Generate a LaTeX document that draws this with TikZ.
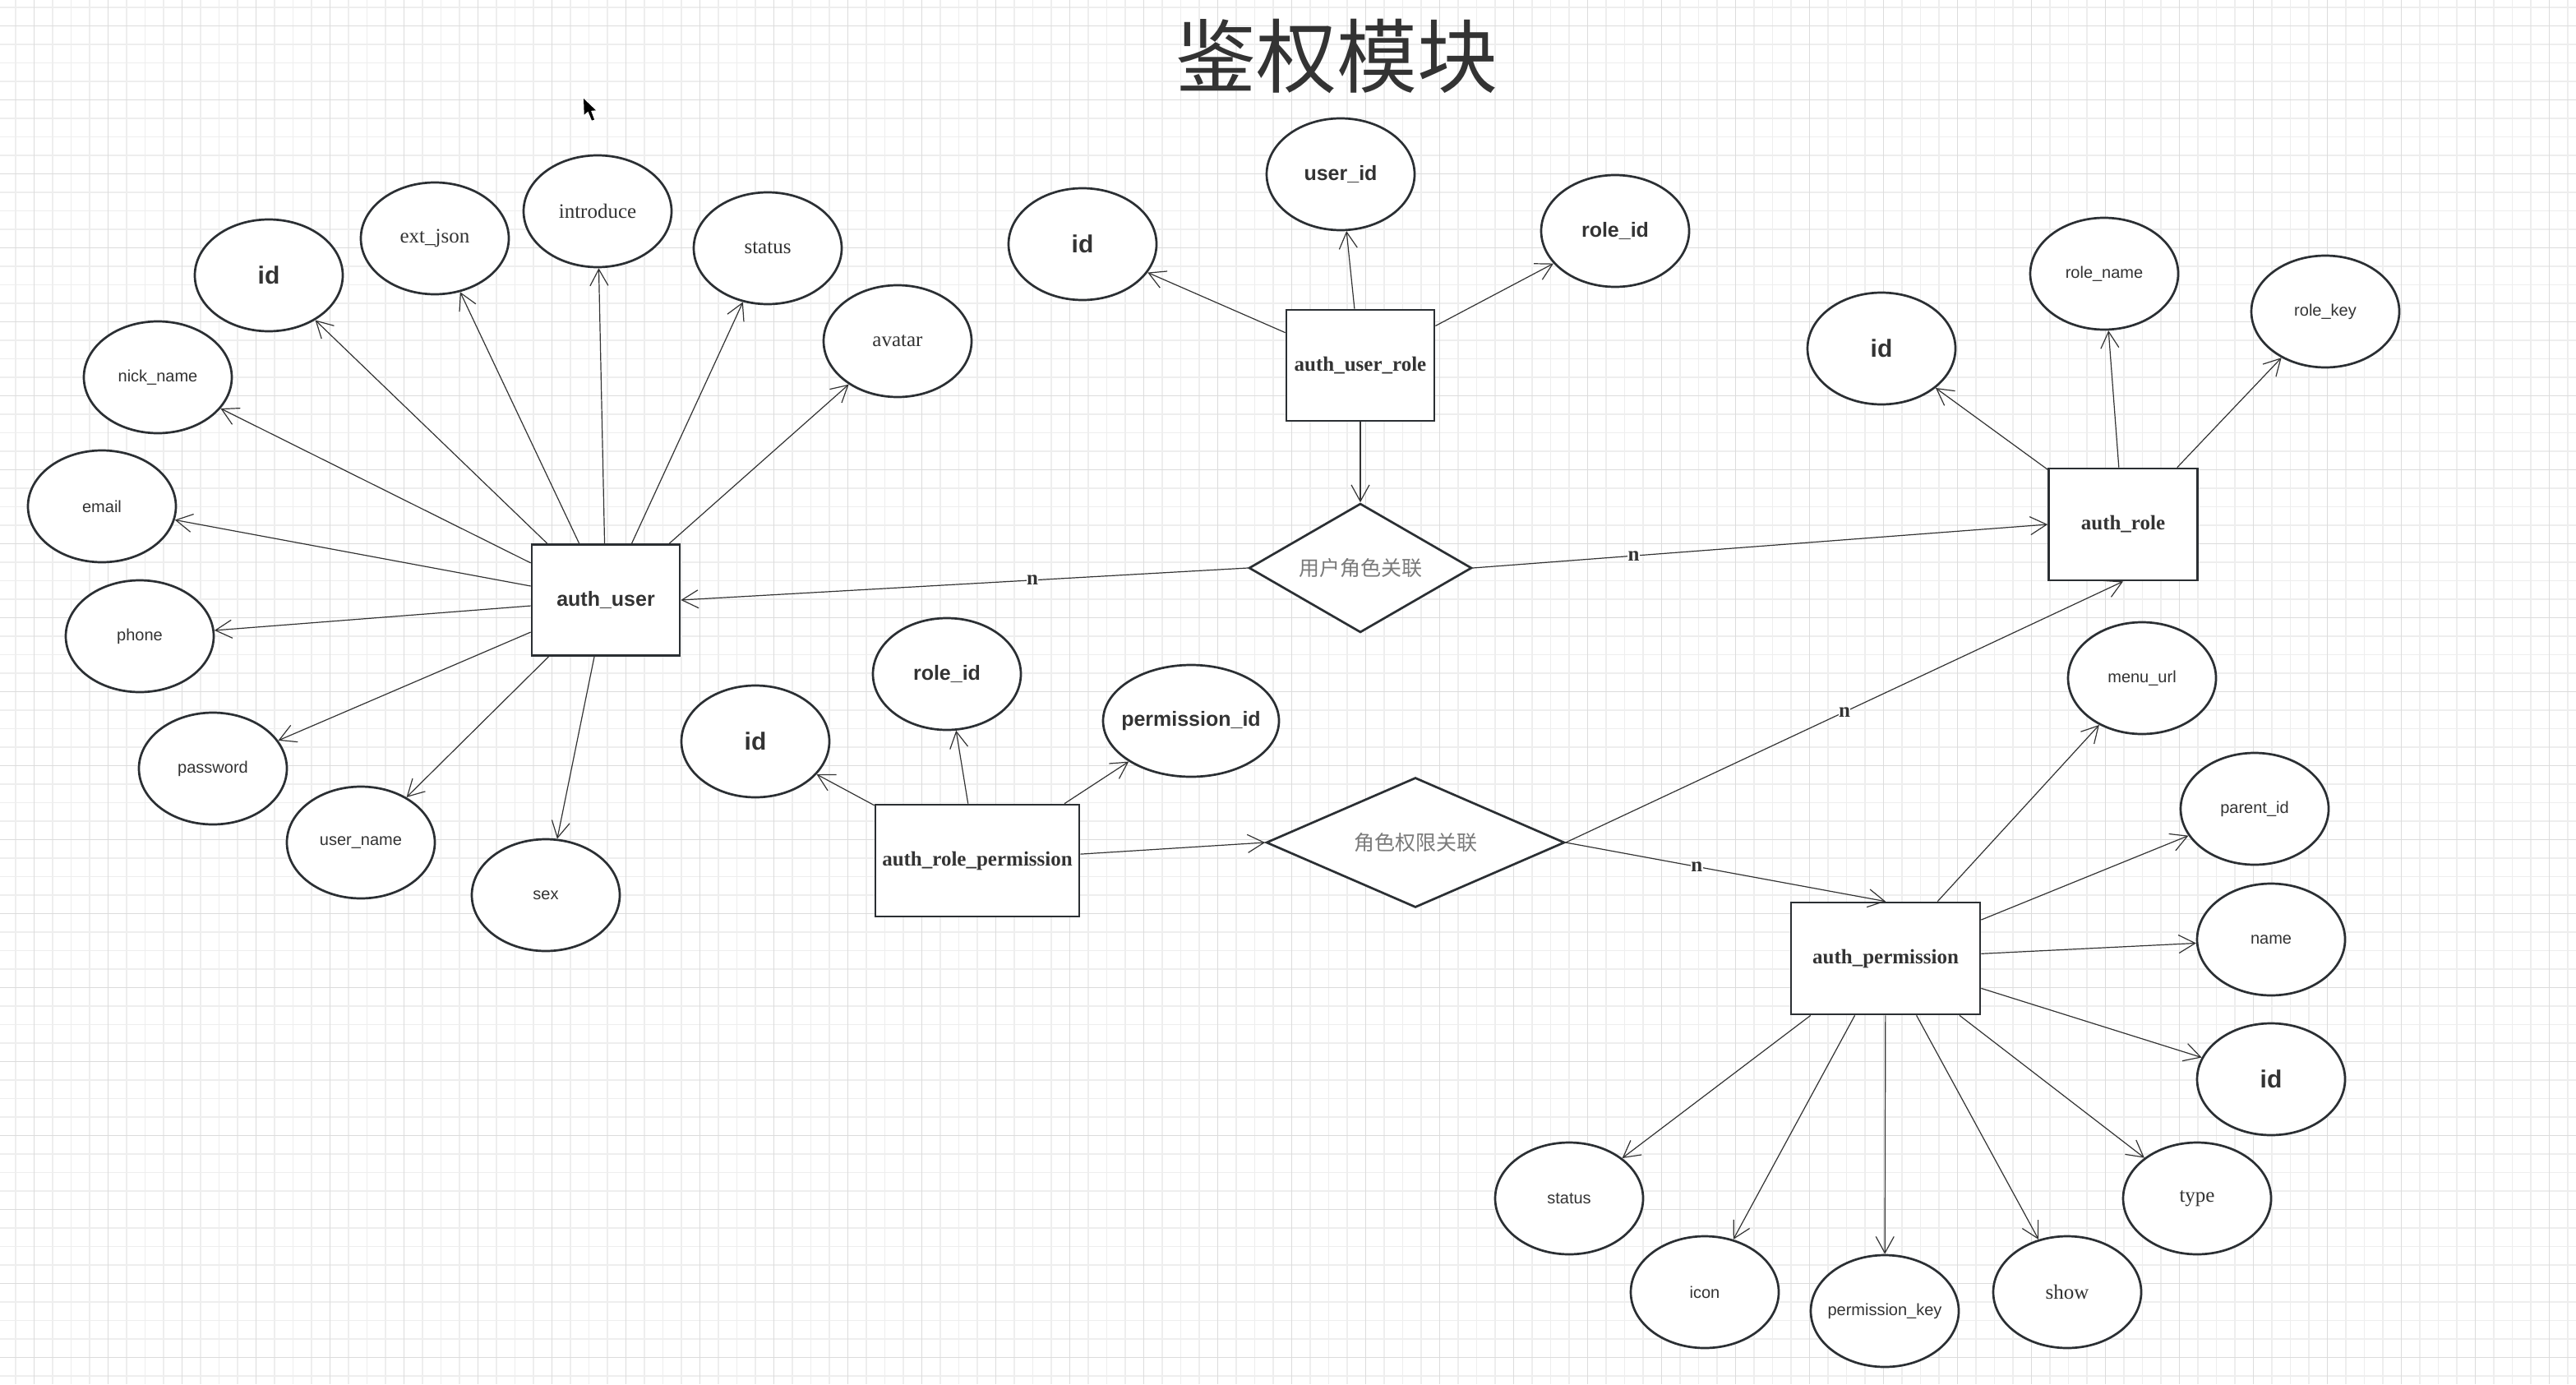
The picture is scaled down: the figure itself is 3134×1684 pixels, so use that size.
\documentclass[tikz,border=0pt]{standalone}
\usepackage{fontspec}
\usetikzlibrary{shapes.geometric,arrows.meta}
\newfontfamily\lsans{Liberation Sans}
\newfontfamily\lserif{Liberation Serif}
\newfontfamily\cjkf{Noto Sans CJK SC}
\definecolor{linec}{HTML}{2B2F33}
\definecolor{connc}{HTML}{333333}
\definecolor{txt}{HTML}{333333}
\definecolor{reltxt}{HTML}{7A7A7A}
\definecolor{gridminor}{HTML}{EEEEEE}
\definecolor{gridmajor}{HTML}{DCDCDC}
\tikzset{
  attr/.style={ellipse, draw=linec, line width=2.7pt, fill=white, minimum width=180pt, minimum height=136pt, inner sep=0pt, text=txt},
  ent/.style={rectangle, draw=linec, line width=2.7pt, fill=white, minimum width=180pt, minimum height=135pt, inner sep=0pt, text=txt},
  rel/.style={diamond, draw=linec, line width=2.7pt, fill=white, inner sep=0pt, aspect=2.5, text=reltxt, font=\cjkf\fontsize{25}{30}\selectfont},
  conn/.style={draw=connc, line width=1.2pt, -{Straight Barb[length=20pt,width=22pt,line width=1.2pt]}},
  card/.style={font=\lserif\bfseries\fontsize{25}{30}\selectfont, fill=white, inner sep=0.5pt, text=txt},
  fbig/.style={font=\lsans\bfseries\fontsize{30}{36}\selectfont},
  fbold/.style={font=\lsans\bfseries\fontsize{25}{30}\selectfont},
  fsm/.style={font=\lsans\fontsize{20}{24}\selectfont},
  fser/.style={font=\lserif\fontsize{25}{30}\selectfont},
  fent/.style={font=\lserif\bfseries\fontsize{25}{30}\selectfont},
}
\begin{document}
\begin{tikzpicture}[x=1pt,y=-1pt]
\useasboundingbox (0,0) rectangle (3134,1684);
\fill[white] (0,0) rectangle (3134,1684);
% grid
\foreach \k in {0,...,139} \draw[gridminor, line width=1.5pt] ({19.2+22.5*\k},0) -- ++(0,1684);
\foreach \k in {0,...,75} \draw[gridminor, line width=1.5pt] (0,{9.2+22.5*\k}) -- ++(3134,0);
\foreach \k in {0,...,34} \draw[gridmajor, line width=1.2pt] ({41.7+90*\k},0) -- ++(0,1684);
\foreach \k in {0,...,18} \draw[gridmajor, line width=1.2pt] (0,{31.7+90*\k}) -- ++(3134,0);

% title
\node[font=\cjkf\fontsize{98}{110}\selectfont, text=txt] (title) at (1626,69) {鉴权模块};
% mouse cursor
\fill[black] (710,120) -- (710.7,139.5) -- (715.5,135.5) -- (720,146.5) -- (723,145.5) -- (719,134.8) -- (725,134.3) -- cycle;

% entities
\node[ent, fbold] (au) at (737,730) {auth\_user};
\node[ent, fent] (aur) at (1655,444.5) {auth\_user\_role};
\node[ent, fent, minimum width=181pt, minimum height=136pt] (ar) at (2583,638) {auth\_role};
\node[ent, fent, minimum width=248pt, minimum height=136pt] (arp) at (1189,1047) {\makebox[0pt]{auth\_role\_permission}};
\node[ent, fent, minimum width=230pt, minimum height=136pt] (ap) at (2294,1166) {auth\_permission};

% relations
\node[rel, minimum width=271pt, minimum height=157pt] (urd) at (1655,691) {用户角色关联};
\node[rel, minimum width=363pt, minimum height=158pt] (rpd) at (1722,1025) {角色权限关联};

% auth_user attributes
\node[attr, fbig] (u1) at (327,335) {id};
\node[attr, fser] (u2) at (529,290) {ext\_json};
\node[attr, fser] (u3) at (727,257) {introduce};
\node[attr, fser] (u4) at (934,302) {status};
\node[attr, fser] (u5) at (1092,415) {avatar};
\node[attr, fsm] (u6) at (192,459) {nick\_name};
\node[attr, fsm] (u7) at (124,616) {email};
\node[attr, fsm] (u8) at (170,774) {phone};
\node[attr, fsm] (u9) at (259,935) {password};
\node[attr, fsm] (u10) at (439,1025) {user\_name};
\node[attr, fsm] (u11) at (664,1089) {sex};

% auth_user_role attributes
\node[attr, fbig] (r1) at (1317,297) {id};
\node[attr, fbold] (r2) at (1631,212) {user\_id};
\node[attr, fbold] (r3) at (1965,281) {role\_id};

% auth_role attributes
\node[attr, fbig] (o1) at (2289,424) {id};
\node[attr, fsm] (o2) at (2560,333) {role\_name};
\node[attr, fsm] (o3) at (2829,379) {role\_key};

% auth_role_permission attributes
\node[attr, fbig] (p1) at (919,902) {id};
\node[attr, fbold] (p2) at (1152,820) {role\_id};
\node[attr, fbold, minimum width=214pt] (p3) at (1449,877) {\makebox[0pt]{permission\_id}};

% auth_permission attributes
\node[attr, fsm] (m1) at (2606,825) {menu\_url};
\node[attr, fsm] (m2) at (2743,984) {parent\_id};
\node[attr, fsm] (m3) at (2763,1143) {name};
\node[attr, fbig] (m4) at (2763,1313) {id};
\node[attr, fser] (m5) at (2673,1458) {type};
\node[attr, fser] (m6) at (2515,1572) {show};
\node[attr, fsm] (m7) at (2293,1595) {\makebox[0pt]{permission\_key}};
\node[attr, fsm] (m8) at (2074,1572) {icon};
\node[attr, fsm] (m9) at (1909,1458) {status};

% connectors: auth_user
\foreach \t in {u1,u2,u3,u4,u5,u6,u7,u8,u9,u10,u11} \draw[conn] (au) -- (\t);
% auth_user_role
\foreach \t in {r1,r2,r3} \draw[conn] (aur) -- (\t);
\draw[conn] (aur.south) -- (urd.north);
% auth_role
\foreach \t in {o1,o2,o3} \draw[conn] (ar) -- (\t);
% auth_role_permission
\foreach \t in {p1,p2,p3} \draw[conn] (arp) -- (\t);
\draw[conn] (arp) -- (rpd.west);
% auth_permission
\foreach \t in {m1,m2,m3,m4,m5,m6,m7,m8,m9} \draw[conn] (ap) -- (\t);

% relation links
\draw[conn] (urd.west) -- node[card, pos=0.38] (n1) {n} (au.east);
\draw[conn] (urd.east) -- node[card, pos=0.28] (n2) {n} (ar.west);
\draw[conn] (rpd.east) -- node[card, pos=0.5] (n3) {n} (ar.south);
\draw[conn] (rpd.east) -- node[card, pos=0.41] (n4) {n} (ap.north);
\end{tikzpicture}
\end{document}
